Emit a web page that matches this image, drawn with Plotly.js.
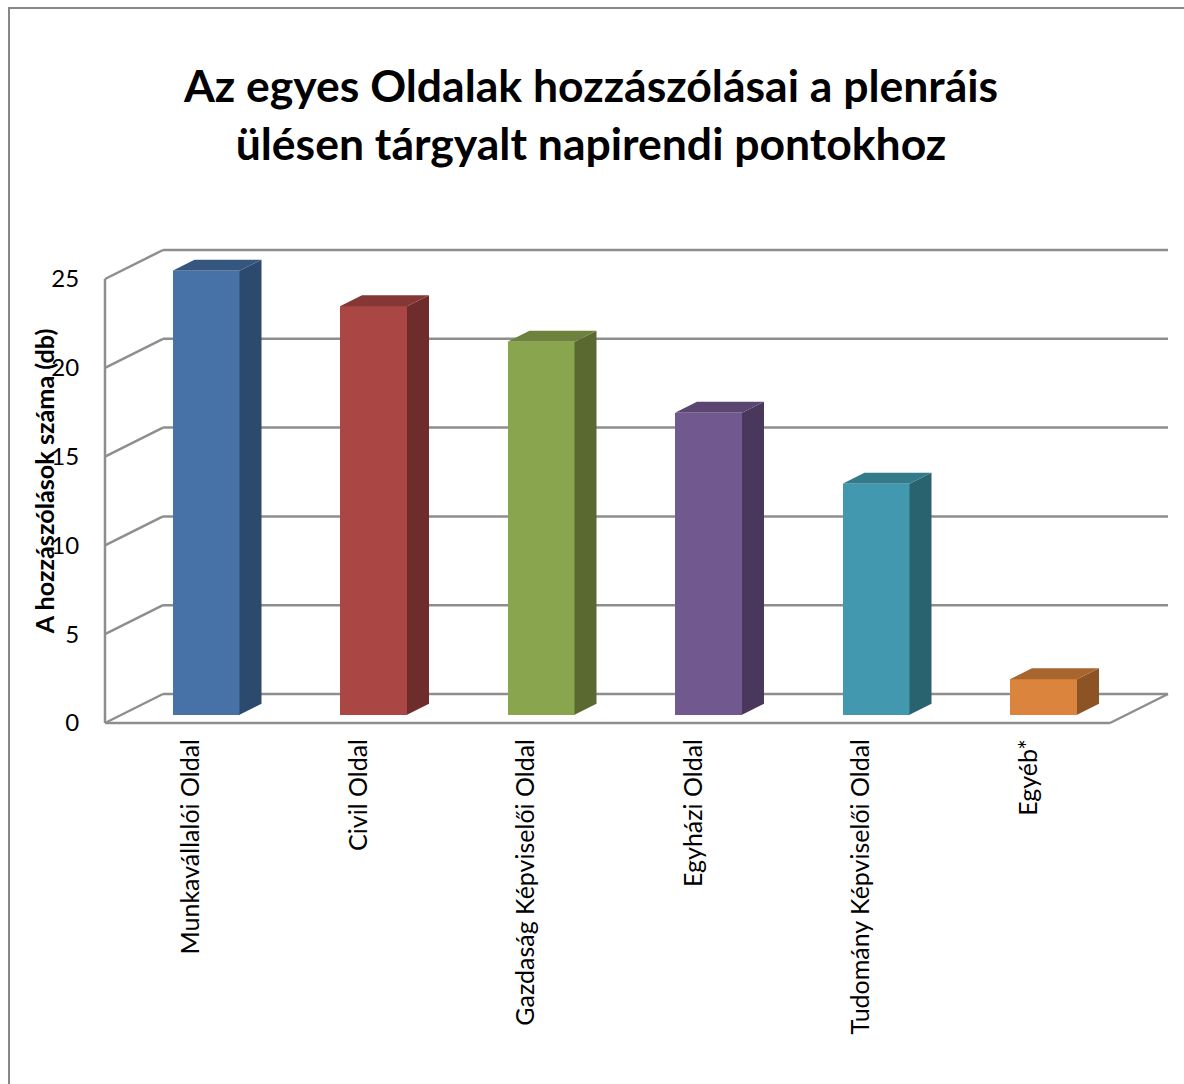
<!DOCTYPE html>
<html>
<head>
<meta charset="utf-8">
<script src="https://cdn.plot.ly/plotly-3.0.1.min.js"></script>
<style>html,body{margin:0;padding:0;background:#fff}#c{width:1184px;height:1084px}</style>
</head>
<body>
<div id="c"></div>
<script>
const categories = ["Munkavállalói Oldal","Civil Oldal","Gazdaság Képviselői Oldal","Egyházi Oldal","Tudomány Képviselői Oldal","Egyéb*"];
const values = [25,23,21,17,13,2];
const yTicks = [0,5,10,15,20,25];
const frontColors = ["#4672A8","#AA4643","#89A54E","#71588F","#4198AF","#DB843D"];
const sideColors  = ["#2C4A6D","#6E2C2A","#59692F","#49385C","#28636F","#8C5424"];
const topColors   = ["#34567F","#853735","#6C823D","#5A4671","#337A8B","#A9652E"];
const titleText = "Az egyes Oldalak hozzászólásai a plenráis<br>ülésen tárgyalt napirendi pontokhoz";
const yTitle = "A hozzászólások száma (db)";

const W=1184,H=1084,mL=88,mR=14,mT=230,mB=352;
const pxX=167.5, pxY=17.76;          // pixels per category / per value
const xFront0=105, yFront0=723;      // pixel position of the front-left floor corner
const wallDX=(1168-105)/pxX-6, wallDY=29/pxY;   // depth of the box
const barShift=0.103, barW=0.4, barBase=0.47;
const barDX=22/pxX, barDY=11/pxY;
const gridColor="#8E8E8E";
const titleSize=44.5;

const xMin=-0.5-(xFront0-mL)/pxX, xMax=-0.5+(W-mR-xFront0)/pxX;
const yMin=-(H-mB-yFront0)/pxY, yMax=(yFront0-mT)/pxY;

const line=(x0,y0,x1,y1,color,w)=>({type:"line",xref:"x",yref:"y",x0,y0,x1,y1,layer:"below",line:{color:color||gridColor,width:w||2.5}});
const shapes=[];
yTicks.forEach(v=>{
  shapes.push(line(-0.5,v,-0.5+wallDX,v+wallDY));
  shapes.push(line(-0.5+wallDX,v+wallDY,5.5+wallDX,v+wallDY));
});
shapes.push(line(-0.5,0,-0.5,25));
shapes.push(line(-0.5,0,5.5,0));
shapes.push(line(5.5,0,5.5+wallDX,wallDY));
// outer chart frame
const fx=p=>(p-mL)/(W-mL-mR), fy=p=>1-(p-mT)/(H-mT-mB);
const frame=(a,b,c,d)=>({type:"line",xref:"paper",yref:"paper",x0:fx(a),y0:fy(b),x1:fx(c),y1:fy(d),line:{color:"#878787",width:2}});
shapes.push(frame(8,8,1184,8));
shapes.push(frame(9,8,9,1084));

const traces=[{
  type:"bar",
  x:categories.map((_,i)=>i+barShift),
  y:values,
  base:values.map(()=>barBase),
  width:barW,
  marker:{color:frontColors,line:{width:0}},
  hoverinfo:"skip",showlegend:false
}];
values.forEach((v,i)=>{
  const xl=i+barShift-barW/2, xr=i+barShift+barW/2, b=barBase, t=barBase+v;
  traces.push({type:"scatter",mode:"lines",x:[xr,xr+barDX,xr+barDX,xr,xr],y:[b,b+barDY,t+barDY,t,b],
    fill:"toself",fillcolor:sideColors[i],line:{width:0},hoverinfo:"skip",showlegend:false});
  traces.push({type:"scatter",mode:"lines",x:[xl,xl+barDX,xr+barDX,xr,xl],y:[t,t+barDY,t+barDY,t,t],
    fill:"toself",fillcolor:topColors[i],line:{width:0},hoverinfo:"skip",showlegend:false});
});

const font="Lato, 'Open Sans', sans-serif";
const layout={
  width:W,height:H,autosize:false,
  paper_bgcolor:"#fff",plot_bgcolor:"#fff",
  margin:{l:mL,r:mR,t:mT,b:mB,pad:0},
  showlegend:false,bargap:0,
  font:{family:font,color:"#000"},
  title:{text:titleText,x:591/W,xanchor:"center",xref:"container",y:1-102/H,yanchor:"top",yref:"container",
    font:{family:font,size:titleSize,color:"#000",weight:700}},
  xaxis:{range:[xMin,xMax],tickmode:"array",tickvals:categories.map((_,i)=>i+0.015),ticktext:categories,tickangle:-90,
    showgrid:false,zeroline:false,showline:false,ticks:"",ticklabelstandoff:1,
    tickfont:{family:font,size:25,color:"#000"},automargin:false},
  yaxis:{range:[yMin,yMax],tickmode:"array",tickvals:yTicks,ticktext:yTicks.map(String),
    showgrid:false,zeroline:false,showline:false,ticks:"outside",ticklen:3,tickcolor:"rgba(0,0,0,0)",
    tickfont:{family:font,size:24,color:"#000"},automargin:false},
  shapes:shapes
};
layout.yaxis.title={text:yTitle,standoff:0,font:{family:font,size:25.2,color:"#000",weight:700}};
Plotly.newPlot("c",traces,layout,{displayModeBar:false,staticPlot:true}).then(()=>{
  document.querySelectorAll(".gtitle tspan.line").forEach((t,i)=>{ if(i>0) t.setAttribute("dy",(i*58/titleSize)+"em"); });
  const yt=document.querySelector(".ytitle");
  if(yt){
    const b=yt.getBoundingClientRect();
    const cx=b.left+b.width/2;
    yt.setAttribute("transform","translate("+(44-cx)+",0) "+(yt.getAttribute("transform")||""));
  }
});
</script>
</body>
</html>
